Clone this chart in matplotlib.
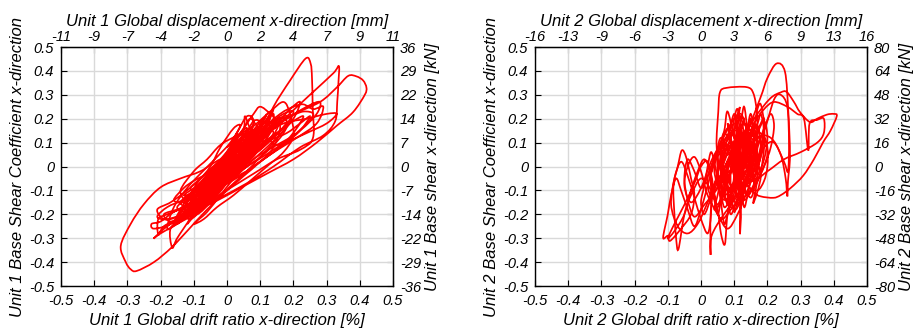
import matplotlib
matplotlib.use("Agg")
import matplotlib.pyplot as plt
from matplotlib.path import Path
from matplotlib.patches import PathPatch

plt.rcParams['font.family'] = ['Liberation Sans', 'DejaVu Sans']
plt.rcParams['font.style'] = 'italic'

# ---------------- data ----------------
drift_ticks = [-0.5, -0.4, -0.3, -0.2, -0.1, 0, 0.1, 0.2, 0.3, 0.4, 0.5]
drift_labels = ['-0.5', '-0.4', '-0.3', '-0.2', '-0.1', '0', '0.1', '0.2', '0.3', '0.4', '0.5']
coef_ticks = [-0.5, -0.4, -0.3, -0.2, -0.1, 0, 0.1, 0.2, 0.3, 0.4, 0.5]
coef_labels = ['-0.5', '-0.4', '-0.3', '-0.2', '-0.1', '0', '0.1', '0.2', '0.3', '0.4', '0.5']

u1_disp_labels = ['-11', '-9', '-7', '-4', '-2', '0', '2', '4', '7', '9', '11']
u1_shear_labels = ['-36', '-29', '-22', '-14', '-7', '0', '7', '14', '22', '29', '36']
u2_disp_labels = ['-16', '-13', '-9', '-6', '-3', '0', '3', '6', '9', '13', '16']
u2_shear_labels = ['-80', '-64', '-48', '-32', '-16', '0', '16', '32', '48', '64', '80']

# Unit 1 - outer hysteresis loops
u1_drift = [
    0.00, 0.03, 0.06, 0.04, -0.02, -0.05, -0.03, 0.02, 0.08, 0.10,
    0.07, 0.01, -0.06, -0.09, -0.06, 0.00, 0.06, 0.12, 0.09, 0.03,
    -0.04, -0.10, -0.12, -0.08, -0.02, 0.04, 0.09, 0.14, 0.12, 0.06,
    0.00, -0.07, -0.13, -0.15, -0.11, -0.05, 0.02, 0.05, 0.054, 0.07,
    0.10, 0.15, 0.19, 0.22, 0.20, 0.15, 0.08, 0.01, -0.08, -0.16,
    -0.20, -0.227, -0.22, -0.17, -0.10, -0.04, 0.03, 0.10, 0.17, 0.24,
    0.28, 0.27, 0.22, 0.14, 0.05, -0.03, -0.11, -0.18, -0.207, -0.207,
    -0.19, -0.14, -0.07, 0.00, 0.06, 0.10, 0.14, 0.19, 0.237, 0.252,
    0.256, 0.258, 0.259, 0.22, 0.15, 0.08, 0.01, -0.06, -0.13, -0.17,
    -0.165, -0.15, -0.11, -0.05, 0.01, 0.07, 0.15, 0.25, 0.32, 0.337,
    0.336, 0.332, 0.326, 0.29, 0.22, 0.14, 0.06, -0.02, -0.09, -0.15,
    -0.12, -0.06, 0.00, 0.05, 0.11, 0.19, 0.28, 0.33, 0.365, 0.39,
    0.41, 0.42, 0.415, 0.38, 0.33, 0.27, 0.20, 0.12, 0.04, -0.04,
    -0.12, -0.18, -0.22, -0.20, -0.13, -0.06, 0.00, 0.03, -0.02, -0.08,
    -0.14, -0.20, -0.25, -0.29, -0.32, -0.305, -0.29, -0.272, -0.22, -0.167,
    -0.12, -0.06, 0.00, 0.06, 0.12, 0.18, 0.24, 0.30, 0.33, 0.30,
    0.24, 0.17, 0.10, 0.04, -0.02, -0.08, -0.05, 0.00, 0.05, 0.08,
    0.04, -0.01, -0.06, -0.10, -0.07, -0.01, 0.04, 0.11, 0.13, 0.10,
    0.04, -0.02, -0.08, -0.13, -0.09, -0.03, 0.03, 0.09, 0.16, 0.20,
    0.23, 0.26, 0.29, 0.27, 0.21, 0.13, 0.06, -0.01, -0.07, -0.13,
    -0.18, -0.21, -0.18, -0.12, -0.06, 0.00, 0.05, 0.09, 0.06, 0.02,
    -0.03, 0.00, 0.04, 0.07, 0.03, -0.03, -0.07, -0.04, 0.01,
]
u1_coef = [
    0.00, 0.06, 0.10, 0.03, -0.05, -0.09, -0.02, 0.05, 0.12, 0.16,
    0.07, -0.02, -0.10, -0.15, -0.07, 0.02, 0.11, 0.19, 0.09, 0.01,
    -0.07, -0.14, -0.19, -0.10, -0.01, 0.08, 0.15, 0.22, 0.12, 0.04,
    -0.04, -0.12, -0.17, -0.22, -0.13, -0.04, 0.06, 0.15, 0.21, 0.16,
    0.13, 0.18, 0.24, 0.27, 0.20, 0.12, 0.03, -0.06, -0.13, -0.19,
    -0.23, -0.24, -0.26, -0.24, -0.17, -0.08, 0.03, 0.11, 0.19, 0.25,
    0.27, 0.22, 0.15, 0.07, -0.01, -0.09, -0.16, -0.20, -0.22, -0.285,
    -0.25, -0.21, -0.14, -0.06, 0.04, 0.13, 0.25, 0.36, 0.452, 0.43,
    0.37, 0.25, 0.12, 0.07, 0.03, -0.03, -0.09, -0.15, -0.21, -0.26,
    -0.34, -0.30, -0.22, -0.13, -0.04, 0.06, 0.17, 0.30, 0.39, 0.42,
    0.36, 0.27, 0.19, 0.13, 0.08, 0.00, -0.07, -0.13, -0.18, -0.24,
    -0.18, -0.11, -0.02, 0.07, 0.13, 0.21, 0.27, 0.33, 0.379, 0.377,
    0.36, 0.33, 0.30, 0.228, 0.17, 0.10, 0.03, -0.03, -0.09, -0.15,
    -0.20, -0.25, -0.30, -0.28, -0.22, -0.12, -0.03, 0.04, 0.03, -0.02,
    -0.05, -0.087, -0.157, -0.24, -0.332, -0.40, -0.43, -0.437, -0.40, -0.339,
    -0.27, -0.18, -0.10, -0.02, 0.04, 0.10, 0.14, 0.18, 0.22, 0.22,
    0.20, 0.18, 0.12, 0.04, -0.04, -0.10, -0.03, 0.05, 0.13, 0.17,
    0.08, 0.00, -0.08, -0.12, -0.05, 0.03, 0.11, 0.18, 0.21, 0.11,
    0.02, -0.06, -0.14, -0.18, -0.09, 0.00, 0.08, 0.14, 0.22, 0.25,
    0.26, 0.24, 0.25, 0.18, 0.12, 0.05, -0.02, -0.08, -0.11, -0.14,
    -0.17, -0.21, -0.22, -0.19, -0.12, -0.05, 0.02, 0.08, 0.09, 0.05,
    -0.01, 0.03, 0.09, 0.14, 0.06, -0.03, -0.09, -0.06, 0.01,
]

# Unit 1 - dense small cycles in the core
u1_core_drift = [
    0.00, 0.05, 0.09, 0.11, 0.08, 0.05, 0.02, -0.03, -0.07, -0.11,
    -0.08, -0.04, 0.00, 0.04, 0.08, 0.12, 0.15, 0.13, 0.09, 0.04,
    -0.01, -0.05, -0.09, -0.12, -0.10, -0.05, -0.01, 0.03, 0.06, 0.03,
    0.00, -0.03, -0.06, -0.09, -0.13, -0.10, -0.05, 0.00, 0.05, 0.10,
    0.14, 0.18, 0.16, 0.11, 0.06, 0.02, -0.02, -0.06, -0.03, 0.01,
    0.05, 0.08, 0.10, 0.12, 0.10, 0.07, 0.03, -0.01, -0.05, -0.08,
    -0.11, -0.09, -0.06, -0.02, 0.02, 0.05, 0.08, 0.06, 0.02, -0.02,
    -0.06, -0.10, -0.14, -0.11, -0.07, -0.02, 0.02, 0.07, 0.11, 0.16,
    0.19, 0.17, 0.13, 0.09, 0.05, 0.01, -0.03, -0.07, -0.04, 0.00,
    0.03, 0.07, 0.09, 0.07, 0.04, 0.00, -0.04, -0.08, -0.12, -0.15,
    -0.13, -0.09, -0.05, -0.01, 0.03, 0.06, 0.10, 0.13, 0.11, 0.07,
    0.03, -0.01, -0.04, -0.02, 0.02, 0.05, 0.08, 0.05, 0.01, -0.03,
]
u1_core_coef = [
    0.03, 0.10, 0.17, 0.20, 0.12, 0.04, 0.00, -0.05, -0.11, -0.16,
    -0.15, -0.08, -0.01, 0.05, 0.09, 0.14, 0.19, 0.14, 0.06, -0.01,
    -0.07, -0.13, -0.18, -0.21, -0.14, -0.06, 0.01, 0.09, 0.14, 0.12,
    0.06, 0.00, -0.04, -0.08, -0.12, -0.11, -0.07, -0.03, 0.02, 0.07,
    0.12, 0.17, 0.12, 0.05, 0.00, -0.04, -0.09, -0.15, -0.12, -0.05,
    0.03, 0.10, 0.16, 0.22, 0.17, 0.09, 0.02, -0.03, -0.10, -0.16,
    -0.20, -0.12, -0.05, 0.01, 0.07, 0.12, 0.15, 0.08, 0.03, -0.02,
    -0.06, -0.10, -0.15, -0.17, -0.13, -0.07, -0.02, 0.04, 0.10, 0.15,
    0.20, 0.21, 0.17, 0.12, 0.07, 0.02, -0.04, -0.09, -0.09, -0.04,
    0.02, 0.08, 0.13, 0.15, 0.10, 0.04, -0.02, -0.07, -0.13, -0.17,
    -0.19, -0.17, -0.11, -0.05, 0.00, 0.05, 0.10, 0.16, 0.18, 0.13,
    0.07, 0.01, -0.05, -0.08, -0.02, 0.06, 0.11, 0.09, 0.04, -0.01,
]

# Unit 1 - second run of small cycles
u1_core2_drift = [
    0.02, 0.07, 0.12, 0.16, 0.14, 0.10, 0.05, 0.00, -0.05, -0.09,
    -0.13, -0.16, -0.14, -0.10, -0.06, -0.02, 0.02, 0.05, 0.07, 0.09,
    0.12, 0.15, 0.18, 0.21, 0.23, 0.20, 0.15, 0.10, 0.06, 0.02,
    -0.03, -0.07, -0.11, -0.15, -0.19, -0.17, -0.12, -0.08, -0.04, 0.00,
    0.03, 0.06, 0.09, 0.12, 0.14, 0.12, 0.09, 0.06, 0.02, -0.02,
    -0.06, -0.10, -0.13, -0.16, -0.13, -0.09, -0.05, -0.01, 0.03, 0.07,
    0.10, 0.13, 0.17, 0.20, 0.18, 0.14, 0.10, 0.06, 0.02, -0.02,
    -0.06, -0.10, -0.12, -0.10, -0.07, -0.04, -0.01, 0.02, 0.04, 0.06,
    0.04, 0.01, -0.02, -0.05, -0.08, -0.11, -0.09, -0.05, -0.01, 0.03,
    0.08, 0.13, 0.18, 0.22, 0.25, 0.22, 0.17, 0.12, 0.07, 0.02,
    -0.03, -0.08, -0.12, -0.09, -0.05, -0.02, 0.01, 0.04, 0.07, 0.10,
    0.08, 0.05, 0.02, -0.01, -0.04, -0.07, -0.10, -0.07, -0.03, 0.00,
    0.04, 0.07, 0.09, 0.11, 0.09, 0.05, 0.01, -0.03, -0.06, -0.04,
    -0.01, 0.02, 0.05, 0.03, 0.00, -0.03, -0.01, 0.01, 0.03, 0.02,
]
u1_core2_coef = [
    0.01, 0.09, 0.15, 0.20, 0.13, 0.07, 0.02, -0.05, -0.12, -0.17,
    -0.22, -0.24, -0.18, -0.10, -0.04, 0.02, 0.09, 0.16, 0.20, 0.17,
    0.12, 0.09, 0.11, 0.16, 0.21, 0.19, 0.14, 0.08, 0.03, -0.03,
    -0.08, -0.13, -0.16, -0.18, -0.20, -0.23, -0.21, -0.17, -0.12, -0.06,
    0.00, 0.06, 0.10, 0.17, 0.24, 0.20, 0.13, 0.08, 0.05, 0.01,
    -0.03, -0.06, -0.09, -0.14, -0.15, -0.12, -0.09, -0.04, 0.03, 0.10,
    0.14, 0.18, 0.22, 0.23, 0.17, 0.10, 0.04, -0.02, -0.07, -0.12,
    -0.16, -0.21, -0.24, -0.19, -0.12, -0.06, -0.01, 0.04, 0.10, 0.16,
    0.14, 0.08, 0.03, -0.01, -0.05, -0.09, -0.10, -0.07, -0.03, 0.02,
    0.07, 0.11, 0.14, 0.18, 0.21, 0.15, 0.09, 0.04, -0.01, -0.05,
    -0.10, -0.15, -0.19, -0.20, -0.15, -0.09, -0.03, 0.04, 0.11, 0.18,
    0.19, 0.12, 0.06, 0.00, -0.05, -0.10, -0.13, -0.14, -0.09, -0.02,
    0.05, 0.12, 0.16, 0.12, 0.06, 0.00, -0.05, -0.11, -0.14, -0.08,
    -0.02, 0.03, 0.08, 0.07, 0.02, -0.03, -0.01, 0.02, 0.05, 0.03,
]

# Unit 1 - third run, wider cycles
u1_core3_drift = [
    0.00, 0.04, 0.08, 0.10, 0.13, 0.16, 0.14, 0.10, 0.05, 0.00,
    -0.05, -0.10, -0.15, -0.18, -0.16, -0.12, -0.08, -0.03, 0.01, 0.04,
    0.02, -0.02, -0.05, -0.09, -0.12, -0.14, -0.10, -0.06, -0.02, 0.03,
    0.08, 0.13, 0.17, 0.19, 0.20, 0.17, 0.12, 0.07, 0.02, -0.03,
    -0.07, -0.10, -0.06, -0.02, 0.02, 0.06, 0.10, 0.14, 0.11, 0.07,
    0.03, -0.02, -0.07, -0.12, -0.17, -0.21, -0.19, -0.15, -0.10, -0.05,
    0.00, 0.05, 0.10, 0.15, 0.20, 0.24, 0.26, 0.23, 0.19, 0.14,
    0.10, 0.06, 0.02, -0.02, -0.06, -0.10, -0.13, -0.11, -0.07, -0.04,
    0.00, 0.03, 0.06, 0.08, 0.06, 0.03, 0.00, -0.04, -0.08, -0.11,
    -0.08, -0.04, 0.00, 0.04, 0.09, 0.13, 0.16, 0.18, 0.15, 0.11,
    0.07, 0.03, -0.01, -0.05, -0.09, -0.06, -0.02, 0.02, 0.05, 0.08,
    0.11, 0.09, 0.06, 0.03, 0.00, -0.03, -0.06, -0.03, 0.00, 0.03,
    0.05, 0.07, 0.05, 0.02, -0.01, -0.04, -0.07, -0.04, -0.01, 0.01,
]
u1_core3_coef = [
    0.08, 0.14, 0.22, 0.25, 0.22, 0.17, 0.08, 0.02, -0.04, -0.10,
    -0.15, -0.20, -0.24, -0.26, -0.17, -0.09, -0.03, 0.04, 0.10, 0.17,
    0.16, 0.08, 0.00, -0.07, -0.14, -0.10, -0.02, 0.03, 0.09, 0.13,
    0.17, 0.23, 0.27, 0.22, 0.13, 0.06, 0.00, -0.06, -0.12, -0.17,
    -0.22, -0.24, -0.19, -0.12, -0.05, 0.02, 0.08, 0.14, 0.16, 0.12,
    0.07, 0.02, -0.04, -0.10, -0.15, -0.18, -0.22, -0.21, -0.16, -0.11,
    -0.06, 0.00, 0.05, 0.09, 0.13, 0.18, 0.22, 0.23, 0.21, 0.19,
    0.15, 0.10, 0.05, 0.00, -0.06, -0.13, -0.19, -0.22, -0.17, -0.10,
    -0.02, 0.04, 0.11, 0.19, 0.21, 0.14, 0.06, -0.01, -0.09, -0.15,
    -0.14, -0.09, -0.04, 0.01, 0.06, 0.11, 0.15, 0.19, 0.20, 0.13,
    0.05, -0.02, -0.08, -0.13, -0.17, -0.16, -0.10, -0.03, 0.04, 0.09,
    0.12, 0.08, 0.03, -0.01, -0.05, -0.08, -0.11, -0.05, 0.01, 0.06,
    0.10, 0.14, 0.13, 0.09, 0.04, -0.02, -0.07, -0.04, 0.01, 0.04,
]

# Unit 2 - outer hysteresis loops
u2_drift = [
    0.10, 0.12, 0.14, 0.13, 0.10, 0.08, 0.07, 0.09, 0.11, 0.13,
    0.15, 0.14, 0.11, 0.07, 0.05, 0.06, 0.08, 0.10, 0.11, 0.14,
    0.17, 0.19, 0.18, 0.15, 0.12, 0.09, 0.06, 0.04, 0.03, 0.05,
    0.07, 0.08, 0.10, 0.12, 0.13, 0.12, 0.10, 0.11, 0.13, 0.15,
    0.17, 0.16, 0.14, 0.11, 0.08, 0.05, 0.02, 0.00, -0.02, -0.04,
    -0.05, -0.03, 0.00, 0.03, 0.06, 0.09, 0.12, 0.14, 0.16, 0.18,
    0.157, 0.17, 0.16, 0.10, 0.06, 0.047, 0.052, 0.057, 0.077, 0.138,
    0.158, 0.168, 0.17, 0.16, 0.13, 0.09, 0.05, 0.03, 0.029, 0.029,
    0.04, 0.08, 0.13, 0.178, 0.20, 0.228, 0.253, 0.263, 0.268, 0.262,
    0.26, 0.255, 0.24, 0.21, 0.17, 0.13, 0.10, 0.08, 0.072, 0.06,
    0.05, 0.03, 0.00, -0.03, -0.05, -0.068, -0.075, -0.08, -0.083, -0.07,
    -0.058, -0.045, -0.03, -0.02, -0.03, -0.06, -0.093, -0.10, -0.114, -0.10,
    -0.09, -0.075, -0.06, -0.04, -0.02, 0.00, 0.02, 0.04, 0.06, 0.08,
    0.12, 0.16, 0.208, 0.24, 0.258, 0.28, 0.298, 0.328, 0.35, 0.379,
    0.40, 0.409, 0.39, 0.368, 0.34, 0.308, 0.27, 0.24, 0.218, 0.18,
    0.157, 0.13, 0.11, 0.13, 0.16, 0.19, 0.22, 0.26, 0.29, 0.31,
    0.323, 0.327, 0.35, 0.37, 0.37, 0.35, 0.30, 0.25, 0.20, 0.16,
    0.12, 0.10, 0.117, 0.11, 0.13, 0.12, 0.117, 0.118, 0.08, 0.09,
    0.12, 0.15, 0.14, 0.12, 0.09, 0.06, 0.07, 0.10, 0.12, 0.10,
]
u2_coef = [
    0.00, 0.08, 0.12, 0.03, -0.06, -0.10, -0.02, 0.06, 0.14, 0.18,
    0.10, 0.00, -0.08, -0.14, -0.06, 0.04, 0.12, 0.22, 0.13, 0.06,
    0.15, 0.20, 0.08, -0.04, -0.12, -0.18, -0.22, -0.14, -0.04, 0.06,
    0.15, 0.23, 0.12, 0.02, -0.08, -0.15, -0.06, 0.04, 0.13, 0.19,
    0.10, -0.02, -0.10, -0.20, -0.26, -0.20, -0.12, -0.02, 0.04, 0.00,
    -0.08, -0.15, -0.09, 0.02, 0.10, 0.18, 0.22, 0.14, 0.05, -0.04,
    -0.155, -0.04, 0.08, 0.10, 0.00, 0.088, 0.228, 0.31, 0.329, 0.332,
    0.305, 0.228, 0.12, 0.02, -0.08, -0.16, -0.24, -0.30, -0.367, -0.20,
    -0.10, 0.02, 0.12, 0.284, 0.37, 0.431, 0.396, 0.228, 0.046, -0.06,
    -0.125, -0.05, 0.05, 0.12, 0.12, 0.02, -0.08, -0.20, -0.325, -0.28,
    -0.18, -0.10, -0.05, -0.12, -0.20, -0.346, -0.30, -0.20, -0.08, 0.00,
    0.067, 0.04, -0.05, -0.12, -0.20, -0.26, -0.311, -0.29, -0.297, -0.20,
    -0.12, -0.05, -0.10, -0.18, -0.25, -0.18, -0.08, 0.02, 0.10, 0.05,
    0.10, 0.20, 0.284, 0.31, 0.312, 0.27, 0.228, 0.186, 0.20, 0.217,
    0.22, 0.211, 0.15, 0.102, 0.03, -0.038, -0.09, -0.12, -0.131, -0.125,
    -0.108, -0.06, 0.00, 0.08, 0.18, 0.24, 0.27, 0.25, 0.22, 0.20,
    0.067, 0.18, 0.195, 0.20, 0.14, 0.10, 0.06, 0.03, -0.02, -0.05,
    0.04, 0.14, 0.249, 0.15, 0.05, -0.05, -0.283, -0.15, -0.05, 0.05,
    0.12, 0.15, 0.05, -0.04, -0.09, -0.04, 0.06, 0.09, 0.03, 0.00,
]

# Unit 2 - dense small cycles in the core
u2_core_drift = [
    0.10, 0.11, 0.12, 0.13, 0.14, 0.13, 0.11, 0.10, 0.09, 0.08,
    0.09, 0.10, 0.09, 0.07, 0.06, 0.07, 0.09, 0.12, 0.15, 0.16,
    0.15, 0.13, 0.11, 0.09, 0.08, 0.08, 0.10, 0.13, 0.16, 0.18,
    0.17, 0.14, 0.12, 0.10, 0.09, 0.10, 0.12, 0.13, 0.14, 0.15,
    0.14, 0.12, 0.10, 0.08, 0.06, 0.05, 0.07, 0.09, 0.11, 0.13,
    0.15, 0.17, 0.19, 0.20, 0.18, 0.16, 0.14, 0.12, 0.11, 0.12,
    0.10, 0.07, 0.05, 0.04, 0.05, 0.07, 0.09, 0.11, 0.14, 0.16,
    0.15, 0.12, 0.10, 0.12, 0.14, 0.17, 0.18, 0.19, 0.18, 0.16,
    0.13, 0.10, 0.08, 0.06, 0.03, 0.02, 0.04, 0.06, 0.09, 0.11,
    0.12, 0.11, 0.09, 0.08, 0.10, 0.13, 0.15, 0.13, 0.11, 0.10,
    0.05, 0.02, -0.01, -0.04, -0.07, -0.09, -0.08, -0.06, -0.04, -0.02,
    0.00, 0.02, 0.03, 0.03, 0.02, 0.00, -0.02, -0.05, -0.08, -0.10,
    -0.08, -0.05, -0.03, -0.01, 0.01, 0.03, 0.04, 0.05, 0.06, 0.07,
]
u2_core_coef = [
    0.02, 0.10, 0.16, 0.08, -0.02, -0.10, -0.06, 0.04, 0.12, 0.18,
    0.08, -0.02, -0.12, -0.17, -0.08, 0.02, 0.09, 0.13, 0.17, 0.09,
    0.00, -0.06, -0.13, -0.20, -0.12, -0.02, 0.06, 0.10, 0.13, 0.10,
    0.02, -0.05, -0.09, -0.04, 0.03, 0.10, 0.19, 0.25, 0.15, 0.05,
    -0.04, -0.14, -0.18, -0.10, -0.02, 0.05, 0.10, 0.04, -0.03, 0.02,
    0.08, 0.14, 0.12, 0.05, -0.03, -0.08, -0.12, -0.05, 0.05, 0.12,
    0.15, 0.08, -0.02, -0.10, -0.16, -0.09, -0.01, 0.07, 0.12, 0.06,
    -0.02, -0.08, -0.02, 0.04, 0.10, 0.18, 0.22, 0.14, 0.04, -0.02,
    0.00, 0.05, 0.00, -0.06, -0.12, -0.05, 0.03, 0.09, 0.14, 0.09,
    0.01, -0.09, -0.15, -0.06, 0.00, 0.05, 0.11, 0.07, 0.01, -0.01,
    -0.05, -0.15, -0.24, -0.28, -0.25, -0.16, -0.05, 0.02, -0.04, -0.13,
    -0.22, -0.28, -0.20, -0.08, 0.02, 0.00, -0.07, -0.16, -0.24, -0.30,
    -0.27, -0.20, -0.10, -0.02, 0.03, -0.03, -0.12, -0.20, -0.14, -0.04,
]

# Unit 2 - second run of small cycles
u2_core2_drift = [
    0.08, 0.10, 0.11, 0.12, 0.13, 0.13, 0.12, 0.11, 0.10, 0.09,
    0.09, 0.10, 0.12, 0.14, 0.16, 0.17, 0.16, 0.14, 0.12, 0.10,
    0.07, 0.05, 0.04, 0.06, 0.08, 0.10, 0.12, 0.13, 0.15, 0.16,
    0.15, 0.13, 0.11, 0.09, 0.07, 0.06, 0.07, 0.09, 0.11, 0.13,
    0.14, 0.15, 0.17, 0.19, 0.20, 0.19, 0.17, 0.15, 0.13, 0.11,
    0.10, 0.11, 0.12, 0.13, 0.11, 0.09, 0.07, 0.06, 0.05, 0.04,
    0.06, 0.08, 0.10, 0.12, 0.14, 0.16, 0.17, 0.16, 0.14, 0.12,
    0.11, 0.09, 0.07, 0.06, 0.06, 0.08, 0.10, 0.12, 0.14, 0.15,
    0.17, 0.18, 0.17, 0.15, 0.12, 0.10, 0.08, 0.07, 0.08, 0.10,
    0.12, 0.14, 0.15, 0.16, 0.15, 0.13, 0.11, 0.10, 0.11, 0.12,
    0.15, 0.19, 0.22, 0.24, 0.26, 0.265, 0.262, 0.25, 0.22, 0.19,
    0.17, 0.14,
]
u2_core2_coef = [
    0.00, 0.09, 0.17, 0.21, 0.12, 0.02, -0.07, -0.14, -0.19, -0.10,
    0.00, 0.08, 0.05, 0.00, 0.06, 0.13, 0.18, 0.10, 0.00, -0.08,
    -0.12, -0.08, 0.00, 0.07, 0.13, 0.18, 0.13, 0.06, -0.01, -0.08,
    -0.13, -0.09, -0.02, 0.04, 0.09, 0.05, -0.04, -0.11, -0.16, -0.10,
    -0.02, 0.07, 0.14, 0.19, 0.12, 0.03, -0.04, -0.10, -0.14, -0.08,
    0.00, 0.07, 0.15, 0.20, 0.19, 0.12, 0.04, -0.05, -0.12, -0.18,
    -0.15, -0.07, 0.02, 0.09, 0.13, 0.10, 0.03, -0.05, -0.06, 0.00,
    0.06, 0.10, 0.14, 0.09, 0.01, -0.05, -0.09, -0.04, 0.04, 0.12,
    0.17, 0.08, -0.01, -0.06, -0.10, -0.13, -0.16, -0.08, 0.01, 0.06,
    0.10, 0.16, 0.20, 0.12, 0.04, -0.03, 0.02, 0.07, 0.03, -0.02,
    0.05, 0.15, 0.28, 0.30, 0.25, 0.10, -0.02, 0.02, 0.10, 0.08,
    0.00, -0.04,
]

# Unit 2 - third run of small cycles
u2_core3_drift = [
    0.12, 0.13, 0.14, 0.15, 0.16, 0.16, 0.15, 0.14, 0.13, 0.12,
    0.11, 0.10, 0.11, 0.13, 0.15, 0.17, 0.19, 0.21, 0.22, 0.21,
    0.19, 0.17, 0.15, 0.12, 0.09, 0.07, 0.06, 0.07, 0.09, 0.10,
    0.11, 0.12, 0.12, 0.11, 0.10, 0.08, 0.07, 0.06, 0.05, 0.04,
    0.03, 0.02, 0.01, 0.00, 0.01, 0.03, 0.05, 0.07, 0.09, 0.11,
    0.13, 0.15, 0.17, 0.18, 0.19, 0.20, 0.20, 0.19, 0.17, 0.14,
    0.12, 0.10, 0.08, 0.06, 0.05, 0.05, 0.06, 0.08, 0.10, 0.12,
    0.14, 0.16, 0.17, 0.18, 0.19, 0.19, 0.18, 0.16, 0.13, 0.11,
    0.09, 0.07, 0.04, 0.01, -0.02, -0.04, -0.05, -0.04, -0.02, 0.00,
    0.02, 0.04, 0.06, 0.08, 0.10, 0.11, 0.12, 0.13, 0.14, 0.13,
]
u2_core3_coef = [
    0.00, 0.08, 0.16, 0.22, 0.14, 0.04, -0.05, -0.12, -0.17, -0.09,
    0.00, 0.08, 0.13, 0.09, 0.02, 0.08, 0.16, 0.22, 0.17, 0.08,
    0.00, -0.06, -0.10, -0.14, -0.17, -0.12, -0.04, 0.05, 0.12, 0.20,
    0.24, 0.16, 0.06, -0.04, -0.11, -0.20, -0.24, -0.15, -0.06, 0.02,
    0.06, 0.00, -0.08, -0.15, -0.20, -0.13, -0.03, 0.06, 0.10, 0.05,
    -0.02, -0.06, -0.02, 0.06, 0.12, 0.08, 0.00, -0.06, -0.10, -0.08,
    -0.02, 0.04, 0.08, 0.12, 0.07, -0.01, -0.09, -0.14, -0.08, 0.00,
    0.07, 0.17, 0.24, 0.26, 0.18, 0.08, -0.02, -0.09, -0.11, -0.05,
    0.01, -0.05, -0.11, -0.16, -0.21, -0.14, -0.05, 0.03, -0.02, -0.09,
    -0.04, 0.04, 0.10, 0.16, 0.12, 0.04, -0.03, 0.03, 0.10, 0.06,
]

units = [
    ('Unit 1', [(u1_drift, u1_coef), (u1_core_drift, u1_core_coef),
                (u1_core2_drift, u1_core2_coef), (u1_core3_drift, u1_core3_coef)],
     u1_disp_labels, u1_shear_labels),
    ('Unit 2', [(u2_drift, u2_coef), (u2_core_drift, u2_core_coef),
                (u2_core2_drift, u2_core2_coef), (u2_core3_drift, u2_core3_coef)],
     u2_disp_labels, u2_shear_labels),
]


def smooth_path(xs, ys):
    """Cubic Bezier path passing through every recorded point (Catmull-Rom)."""
    pts = list(zip(xs, ys))
    n = len(pts)
    verts = [pts[0]]
    codes = [Path.MOVETO]
    for i in range(n - 1):
        p0 = pts[i - 1] if i > 0 else pts[i]
        p1 = pts[i]
        p2 = pts[i + 1]
        p3 = pts[i + 2] if i + 2 < n else pts[i + 1]
        c1 = (p1[0] + (p2[0] - p0[0]) / 6.0, p1[1] + (p2[1] - p0[1]) / 6.0)
        c2 = (p2[0] - (p3[0] - p1[0]) / 6.0, p2[1] - (p3[1] - p1[1]) / 6.0)
        verts += [c1, c2, p2]
        codes += [Path.CURVE4] * 3
    return Path(verts, codes)


# ---------------- figure ----------------
fig = plt.figure(figsize=(9.17, 3.32), dpi=100)
lefts = [61 / 917, 535 / 917]
W = 332 / 917
B = 1 - 286 / 332
H = 239 / 332

tick_fs = 10.5
lab_fs = 12

for (name, series, dlab, slab), left in zip(units, lefts):
    ax = fig.add_axes([left, B, W, H])
    for xs, ys in series:
        ax.add_patch(PathPatch(smooth_path(xs, ys), fill=False,
                               edgecolor='#ff0000', lw=1.25, zorder=3))
    ax.set_xlim(-0.5, 0.5)
    ax.set_ylim(-0.5, 0.5)
    ax.set_xticks(drift_ticks, drift_labels)
    ax.set_yticks(coef_ticks, coef_labels)
    ax.grid(True, color='#d9d9d9', lw=1.0, zorder=0)
    ax.set_axisbelow(True)
    ax.tick_params(direction='in', length=4, width=0.8, labelsize=tick_fs,
                   top=False, right=False)
    ax.tick_params(axis='x', pad=5.5)
    ax.tick_params(axis='y', pad=5)
    for sp in ax.spines.values():
        sp.set_linewidth(1.0)
    ax.set_xlabel(name + ' Global drift ratio x-direction [%]', fontsize=lab_fs, labelpad=4)
    ax.set_ylabel(name + ' Base Shear Coefficient x-direction', fontsize=lab_fs, labelpad=3)

    top = ax.secondary_xaxis('top')
    top.set_xticks(drift_ticks, dlab)
    top.tick_params(direction='in', length=4, width=0.8, labelsize=tick_fs, pad=2)
    top.set_xlabel(name + ' Global displacement x-direction [mm]', fontsize=lab_fs, labelpad=3)

    right = ax.secondary_yaxis('right')
    right.set_yticks(coef_ticks, slab)
    right.tick_params(direction='in', length=4, width=0.8, labelsize=tick_fs, pad=5)
    right.set_ylabel(name + ' Base shear x-direction [kN]', fontsize=lab_fs, labelpad=3)

fig.savefig('out.png', dpi=100)
